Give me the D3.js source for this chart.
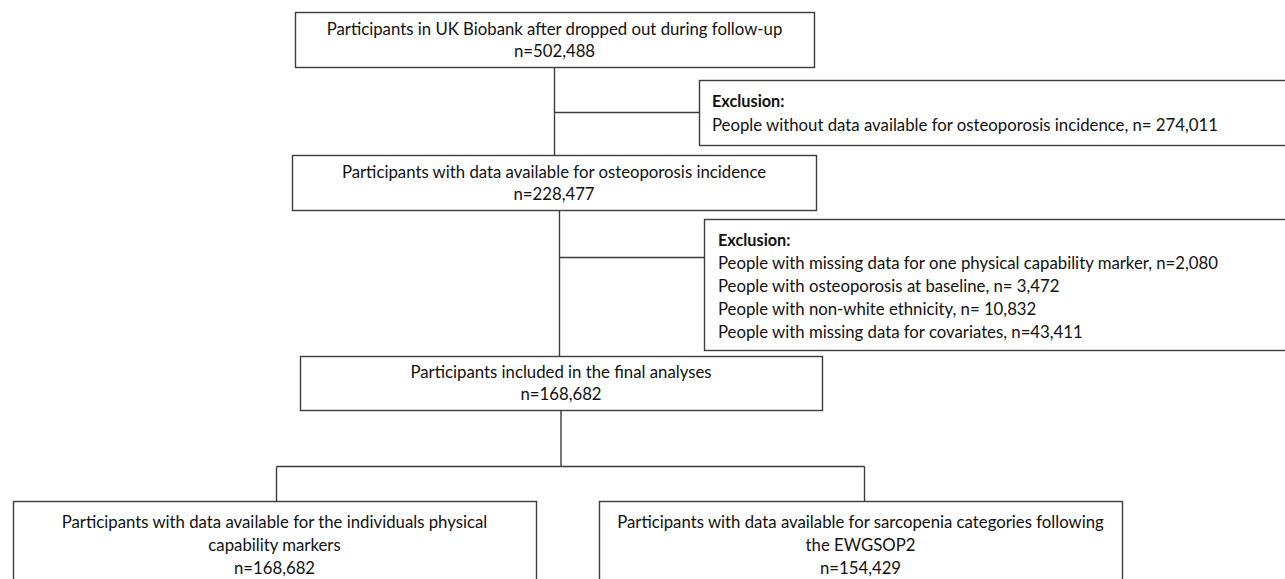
<!DOCTYPE html>
<html>
<head>
<meta charset="utf-8">
<script src="https://cdn.jsdelivr.net/npm/d3@7"></script>
<style>
  html, body { margin: 0; padding: 0; background: #ffffff; }
  svg { display: block; }
  text { font-family: "Lato", "Open Sans", "Noto Sans", sans-serif; fill: #111; }
</style>
</head>
<body>
<svg id="chart" width="1285" height="579"></svg>
<script>
// ---- data ----
const stepTitles = [
  ["Participants in UK Biobank after dropped out during follow-up"],
  ["Participants with data available for osteoporosis incidence"],
  ["Participants included in the final analyses"],
  ["Participants with data available for the individuals physical", "capability markers"],
  ["Participants with data available for sarcopenia categories following", "the EWGSOP2"]
];
const stepCounts = ["502,488", "228,477", "168,682", "168,682", "154,429"];
const exclusionHeader = "Exclusion:";
const exclusion1Reasons = ["People without data available for osteoporosis incidence"];
const exclusion1Counts = ["n= 274,011"];
const exclusion2Reasons = [
  "People with missing data for one physical capability marker",
  "People with osteoporosis at baseline",
  "People with non-white ethnicity",
  "People with missing data for covariates"
];
const exclusion2Counts = ["n=2,080", "n= 3,472", "n= 10,832", "n=43,411"];

// ---- layout (positions / sizes) ----
const stepBoxes = [
  { x: 295, y: 12, w: 519, h: 55 },
  { x: 292, y: 155, w: 524, h: 55 },
  { x: 300, y: 356, w: 522, h: 54 },
  { x: 13, y: 501, w: 523, h: 90 },
  { x: 599, y: 501, w: 523, h: 90 }
];
const exBoxes = [
  { x: 699, y: 80, w: 600, h: 65, tx: 712 },
  { x: 704, y: 219, w: 600, h: 131, tx: 718 }
];
const stroke = "#3c3c3c";
const sw = 1.4;

const svg = d3.select("#chart");

// determine font size so that line width matches reference (~456px for first title)
const probe = svg.append("text").attr("font-size", 16).text(stepTitles[0][0]);
const w16 = probe.node().getComputedTextLength();
probe.remove();
const fs = 16 * 456 / w16;
const lineGap = 22.5;

// ---- connectors ----
const lines = svg.append("g").attr("stroke", stroke).attr("stroke-width", sw).attr("fill", "none");
const cx = [554.5, 559.5, 561];
// box1 -> box2
lines.append("line").attr("x1", cx[0]).attr("x2", cx[0]).attr("y1", stepBoxes[0].y + stepBoxes[0].h).attr("y2", stepBoxes[1].y);
lines.append("line").attr("x1", cx[0]).attr("x2", exBoxes[0].x).attr("y1", 112.5).attr("y2", 112.5);
// box2 -> box3
lines.append("line").attr("x1", cx[1]).attr("x2", cx[1]).attr("y1", stepBoxes[1].y + stepBoxes[1].h).attr("y2", stepBoxes[2].y);
lines.append("line").attr("x1", cx[1]).attr("x2", exBoxes[1].x).attr("y1", 257.5).attr("y2", 257.5);
// box3 -> split
const splitY = 466.5;
const leftX = 276.5, rightX = 864.5;
lines.append("line").attr("x1", cx[2]).attr("x2", cx[2]).attr("y1", stepBoxes[2].y + stepBoxes[2].h).attr("y2", splitY);
lines.append("line").attr("x1", leftX).attr("x2", rightX).attr("y1", splitY).attr("y2", splitY);
lines.append("line").attr("x1", leftX).attr("x2", leftX).attr("y1", splitY).attr("y2", stepBoxes[3].y);
lines.append("line").attr("x1", rightX).attr("x2", rightX).attr("y1", splitY).attr("y2", stepBoxes[4].y);

// ---- step boxes ----
const steps = svg.append("g").selectAll("g").data(stepBoxes).join("g");
steps.append("rect")
  .attr("x", d => d.x + 0.5).attr("y", d => d.y + 0.5)
  .attr("width", d => d.w).attr("height", d => d.h)
  .attr("fill", "#fff").attr("stroke", stroke).attr("stroke-width", sw);
steps.each(function(d, i) {
  const g = d3.select(this);
  const linesTxt = stepTitles[i].concat(["n=" + stepCounts[i]]);
  const midX = d.x + d.w / 2;
  let startY;
  if (i < 3) startY = d.y + d.h / 2 - lineGap / 2;
  else startY = d.y + 20.5;
  linesTxt.forEach((t, k) => {
    g.append("text")
      .attr("x", midX).attr("y", startY + k * (i < 3 ? 22 : 23))
      .attr("text-anchor", "middle")
      .attr("dominant-baseline", "central")
      .attr("font-size", fs)
      .text(t);
  });
});

// ---- exclusion boxes ----
const exData = [
  exclusion1Reasons.map((r, i) => r + ", " + exclusion1Counts[i]),
  exclusion2Reasons.map((r, i) => r + ", " + exclusion2Counts[i])
];
const exStartY = [100, 239];
const exGap = [24, 23];
const exG = svg.append("g").selectAll("g").data(exBoxes).join("g");
exG.append("rect")
  .attr("x", d => d.x + 0.5).attr("y", d => d.y + 0.5)
  .attr("width", d => d.w).attr("height", d => d.h)
  .attr("fill", "#fff").attr("stroke", stroke).attr("stroke-width", sw);
exG.each(function(d, i) {
  const g = d3.select(this);
  g.append("text")
    .attr("x", d.tx).attr("y", exStartY[i])
    .attr("dominant-baseline", "central")
    .attr("font-size", fs * 0.97)
    .attr("font-weight", "bold")
    .text(exclusionHeader);
  exData[i].forEach((t, k) => {
    g.append("text")
      .attr("x", d.tx).attr("y", exStartY[i] + (k + 1) * exGap[i])
      .attr("dominant-baseline", "central")
      .attr("font-size", fs)
      .text(t);
  });
});
</script>
</body>
</html>
